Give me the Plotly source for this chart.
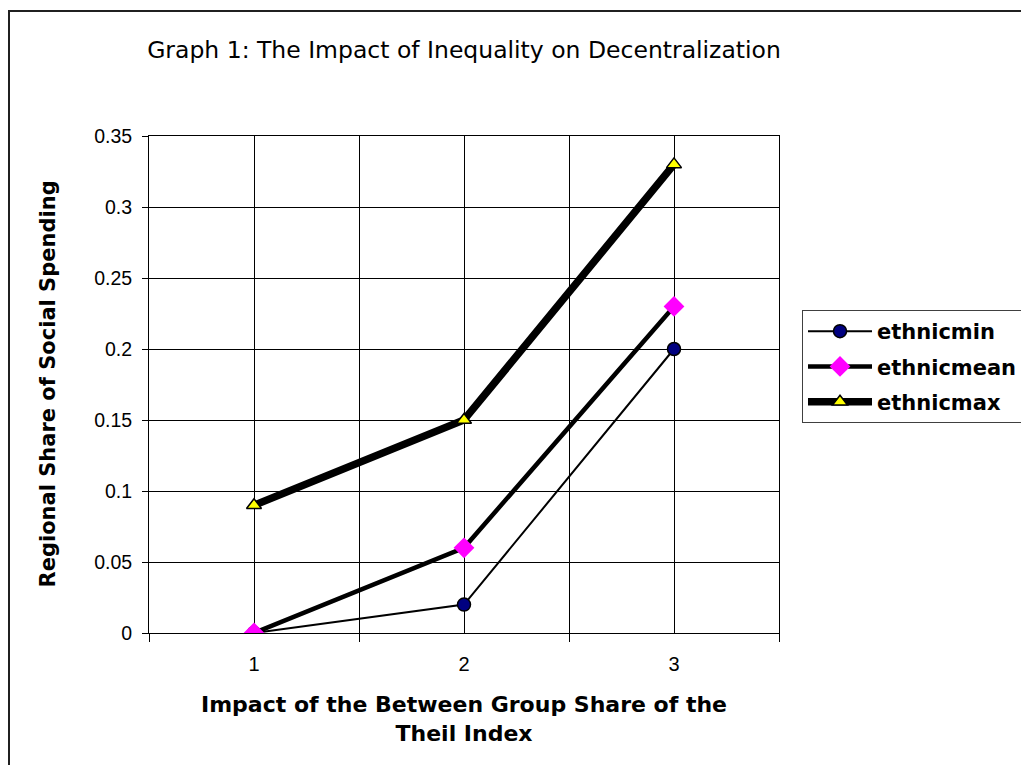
import plotly.graph_objects as go

categories = [1, 2, 3]
ethnicmin = [0.0, 0.02, 0.20]
ethnicmean = [0.0, 0.06, 0.23]
ethnicmax = [0.09, 0.15, 0.33]
y_ticks = [0, 0.05, 0.1, 0.15, 0.2, 0.25, 0.3, 0.35]
x_tick_labels = ["1", "2", "3"]

OFF = 8  # default page body margin
W, H = 1029 - 2 * OFF, 773 - 2 * OFF
# plot area in page pixels
PL, PR, PT, PB = 149, 779, 136, 633
L, R, T, B = PL - OFF, PR - OFF, PT - OFF, PB - OFF
pw, ph = R - L, B - T

def px_x(p):
    return (p - PL) / pw

def px_y(p):
    return (PB - p) / ph

fig = go.Figure()

fig.add_trace(go.Scatter(
    x=categories, y=ethnicmin, name="ethnicmin", mode="lines+markers", legendgroup="a",
    line=dict(color="black", width=2),
    marker=dict(symbol="circle", size=13, color="#000080", line=dict(color="black", width=1.5)),
))
fig.add_trace(go.Scatter(
    x=categories, y=ethnicmean, name="ethnicmean", mode="lines+markers", legendgroup="b",
    line=dict(color="black", width=4.5),
    marker=dict(symbol="diamond", size=16, color="#FF00FF", line=dict(width=0)),
))
fig.add_trace(go.Scatter(
    x=categories, y=ethnicmax, name="ethnicmax", mode="lines+markers", legendgroup="c",
    line=dict(color="black", width=7.5),
    marker=dict(symbol="triangle-up", size=13, color="#FFFF00", line=dict(color="black", width=1.5)),
))

fig.update_layout(
    width=W, height=H, autosize=False,
    margin=dict(l=L, r=W - R, t=T, b=H - B, pad=0, autoexpand=False),
    paper_bgcolor="white", plot_bgcolor="white",
    font=dict(family="Liberation Sans, Arial", color="black", size=20),
    title=dict(
        text="Graph 1: The Impact of Inequality on Decentralization",
        font=dict(family="DejaVu Sans", size=23.5, color="black"),
        x=0.5, xref="paper", xanchor="center",
        y=1 - (50 - OFF) / H, yref="container", yanchor="middle",
    ),
    showlegend=True,
    legend=dict(
        x=px_x(802), y=px_y(310), xanchor="left", yanchor="top",
        xref="paper", yref="paper",
        bgcolor="white", bordercolor="#404040", borderwidth=1,
        font=dict(family="DejaVu Sans", size=21, color="black", weight="bold"),
        itemwidth=64, tracegroupgap=5,
    ),
    xaxis=dict(
        range=[0.5, 3.5], tickmode="array", tickvals=categories, ticktext=x_tick_labels,
        showgrid=True, gridcolor="black", gridwidth=1,
        ticks="", ticklabelstandoff=13,
        showline=True, linecolor="black", linewidth=1, mirror=True,
        zeroline=False,
        tickfont=dict(family="Liberation Sans, Arial", size=20),
        minor=dict(tickvals=[0.5, 1.5, 2.5, 3.5], ticks="outside", ticklen=8,
                   tickcolor="black", showgrid=True, gridcolor="black", gridwidth=1),
    ),
    yaxis=dict(
        range=[0, 0.35], tickmode="array", tickvals=y_ticks,
        showgrid=True, gridcolor="black", gridwidth=1,
        ticks="outside", ticklen=6, tickcolor="black", ticklabelstandoff=6,
        showline=True, linecolor="black", linewidth=1, mirror=True,
        zeroline=False,
        tickfont=dict(family="Liberation Sans, Arial", size=19.5),
    ),
)

fig.add_annotation(
    text="Impact of the Between Group Share of the<br>Theil Index",
    xref="paper", yref="paper", x=0.5, y=px_y(690), xanchor="center", yanchor="top",
    showarrow=False, align="center",
    font=dict(family="DejaVu Sans", size=22, color="black", weight="bold"),
)
fig.add_annotation(
    text="Regional Share of Social Spending",
    xref="paper", yref="paper", x=px_x(47), y=0.5, xanchor="center", yanchor="middle",
    textangle=-90, showarrow=False,
    font=dict(family="DejaVu Sans", size=21, color="black", weight="bold"),
)

fig.add_shape(
    type="rect", xref="paper", yref="paper",
    x0=px_x(9), y0=px_y(800), x1=px_x(1060), y1=px_y(11),
    line=dict(color="#202020", width=2), fillcolor="rgba(0,0,0,0)", layer="below",
)

fig.write_html("out.html")
